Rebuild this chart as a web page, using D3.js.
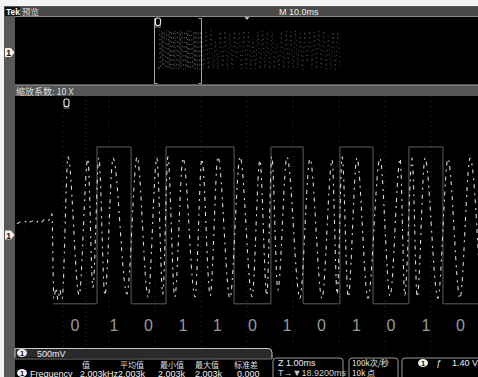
<!DOCTYPE html>
<html>
<head>
<meta charset="utf-8">
<script src="https://cdn.jsdelivr.net/npm/d3@7/dist/d3.min.js"></script>
<style>
  html, body { margin: 0; padding: 0; background: #fff; }
  svg { display: block; }
  text { font-family: "Liberation Sans Narrow", "Liberation Sans", "DejaVu Sans", "Noto Sans CJK SC", sans-serif; }
  .cjk { font-family: "Noto Sans CJK SC", "DejaVu Sans", sans-serif; }
</style>
</head>
<body>
<svg id="scope" width="478" height="377"></svg>
<script>
// ---- FSK capture: bit sequence, gate edges (ms) and the sampled trace ----
const bitValues = [0, 1, 0, 1, 1, 0, 1, 0, 1, 0, 1, 0];
const bitEdges  = [0.78, 1.74, 2.48, 3.24, 3.98, 4.72, 5.52, 6.22, 7.02, 7.74, 8.52, 9.26, 10.02];
const gateVolts = [-1.11, 1.42];   // gate level for bit 0 / bit 1

// trace: idle noise, burst start, then the peaks and troughs of the carrier
const traceTimes = [
  0.00, 0.07, 0.15, 0.22, 0.28, 0.35, 0.41, 0.48, 0.54, 0.61, 0.67, 0.72, 0.76,
  0.80, 0.85, 0.89, 0.93, 0.98,
  1.11, 1.35, 1.54, 1.65, 1.78, 1.91, 2.09, 2.39, 2.61, 2.85, 3.04, 3.17, 3.28, 3.43,
  3.61, 3.87, 4.02, 4.20, 4.37, 4.63, 4.85, 5.11, 5.28, 5.43, 5.54, 5.67, 5.87, 6.15,
  6.37, 6.63, 6.85, 6.96, 7.07, 7.20, 7.39, 7.63, 7.89, 8.11, 8.33, 8.43, 8.59, 8.70,
  8.87, 9.15, 9.37, 9.63, 9.85, 10.07
];
const traceVolts = [
  0.18, 0.21, 0.19, 0.24, 0.21, 0.23, 0.19, 0.24, 0.21, 0.26, 0.23, 0.27, 0.34,
  -1.02, -0.85, -1.05, -0.89, -1.03,
  1.26, -0.97, 1.23, -0.85, 1.24, -0.97, 1.24, -0.95, 1.26, -1.00, 1.24, -0.95, 1.26, -1.00,
  1.24, -1.00, 1.23, -0.98, 1.26, -1.02, 1.26, -1.00, 1.21, -0.98, 1.26, -0.89, 1.26, -1.02,
  1.23, -1.02, 1.21, -0.95, 1.26, -1.00, 1.24, -1.02, 1.24, -0.98, 1.23, -0.97, 1.24, -1.00,
  1.24, -1.02, 1.23, -1.02, 1.24, -0.90
];

// overview record after the zoom window: one sample per 0.5 ms from 10.0 ms
const overviewStart = 10.0;
const overviewStep = 0.5;
const overviewVolts = [
  1.22, -0.98, 1.18, -1.02, 1.25, -0.95, 0.60, -1.00, 1.20, -0.90,
  1.24, -1.03, 1.10, -0.97, 1.23, -0.40, 1.20, -1.00, 1.26, -0.96,
  1.15, -1.02, 0.80, -0.99, 1.22, -1.00, 1.24, -0.93, 1.19, -1.01,
  1.25, -0.97, 0.50, -1.02, 1.21, -0.98, 1.23, -0.88, 1.20, -1.00,
  1.26, -0.96, 1.10, -1.03, 1.22, -0.60, 1.24, -0.99, 1.18, -1.01,
  1.23, -0.94, 1.25, -1.00, 0.90, -0.98, 1.21, -1.02, 1.20, -0.95
];

// readouts
const measureHeaders = ["值", "平均值", "最小值", "最大值", "标准差"];
const measureValues  = ["2.003kHz", "2.003k", "2.003k", "2.003k", "0.000"];

const svg = d3.select("#scope");

// ---- frame ----
svg.append("rect").attr("x", 0).attr("y", 0).attr("width", 478).attr("height", 377).attr("fill", "#f4f4f4");
svg.append("rect").attr("x", 4).attr("y", 6).attr("width", 474).attr("height", 371).attr("fill", "#585858");
// top status bar
svg.append("rect").attr("x", 4).attr("y", 7).attr("width", 474).attr("height", 9).attr("fill", "#4a4a4a");
svg.append("line").attr("x1", 15).attr("x2", 478).attr("y1", 16.5).attr("y2", 16.5).attr("stroke", "#8a8a8a");
svg.append("rect").attr("x", 5).attr("y", 7).attr("width", 15).attr("height", 9).attr("fill", "#111");
svg.append("text").attr("x", 6).attr("y", 15).attr("font-size", 8.5).attr("font-weight", "bold").attr("fill", "#fff").text("Tek");
svg.append("text").attr("class", "cjk").attr("x", 22).attr("y", 15).attr("font-size", 8.5).attr("fill", "#ddd").text("预览");
svg.append("text").attr("x", 279).attr("y", 15).attr("font-size", 9).attr("fill", "#eee").text("M 10.0ms");

// overview panel
const ov = { x0: 15, y0: 17, x1: 478, y1: 84 };
svg.append("rect").attr("x", ov.x0).attr("y", ov.y0).attr("width", ov.x1 - ov.x0).attr("height", ov.y1 - ov.y0).attr("fill", "#000");

// zoom header bar
svg.append("rect").attr("x", 15).attr("y", 84).attr("width", 463).attr("height", 12).attr("fill", "#555");
svg.append("line").attr("x1", 15).attr("x2", 478).attr("y1", 85.5).attr("y2", 85.5).attr("stroke", "#7a7a7a");
svg.append("text").attr("class", "cjk").attr("x", 16).attr("y", 94.5).attr("font-size", 9).attr("fill", "#ddd").text("缩放系数: 10 X");

// main waveform panel
const pm = { x0: 15, y0: 96, x1: 478, y1: 347 };
svg.append("rect").attr("x", pm.x0).attr("y", pm.y0).attr("width", pm.x1 - pm.x0).attr("height", pm.y1 - pm.y0).attr("fill", "#000");

// bottom readout panel
svg.append("rect").attr("x", 15).attr("y", 347).attr("width", 463).attr("height", 30).attr("fill", "#000");

// ---- scales ----
const x = d3.scaleLinear().domain([0, 10]).range([17, 477]);
const y = d3.scaleLinear().domain([-1, 1]).range([297, 173]);
const xo = d3.scaleLinear().domain([0, 10]).range([154.5, 201.5]);
const yo = d3.scaleLinear().domain([-1, 1]).range([69, 35]);

const defs = svg.append("defs");
defs.append("clipPath").attr("id", "clipMain").append("rect")
  .attr("x", pm.x0).attr("y", pm.y0).attr("width", pm.x1 - pm.x0).attr("height", pm.y1 - pm.y0);
defs.append("clipPath").attr("id", "clipOv").append("rect")
  .attr("x", ov.x0).attr("y", ov.y0).attr("width", ov.x1 - ov.x0).attr("height", ov.y1 - ov.y0);

// ---- graticule (faint dotted) ----
const grid = svg.append("g").attr("clip-path", "url(#clipMain)");
grid.selectAll("line.v").data(d3.range(1, 10)).join("line")
  .attr("x1", d => x(d)).attr("x2", d => x(d))
  .attr("y1", pm.y0).attr("y2", pm.y1)
  .attr("stroke", "#2c2c2c").attr("stroke-width", 1).attr("stroke-dasharray", "1 4");
grid.append("line").attr("x1", x(1.5)).attr("x2", x(1.5)).attr("y1", pm.y0).attr("y2", pm.y1)
  .attr("stroke", "#333").attr("stroke-dasharray", "1 3");
grid.append("line").attr("x1", pm.x0).attr("x2", pm.x1).attr("y1", 226).attr("y2", 226)
  .attr("stroke", "#2a2a2a").attr("stroke-dasharray", "1 8");

// ---- gate overlay (square wave following the bits) ----
const gatePts = bitValues.map((b, i) => [bitEdges[i], gateVolts[b]]);
gatePts.push([bitEdges[bitEdges.length - 1], gateVolts[bitValues[bitValues.length - 1]]]);
const gateLine = d3.line().x(d => x(d[0])).y(d => y(d[1])).curve(d3.curveStepAfter);
svg.append("path").attr("clip-path", "url(#clipMain)")
  .attr("d", gateLine(gatePts))
  .attr("fill", "none").attr("stroke", "#5e5e5e").attr("stroke-width", 1);

// ---- FSK trace ----
const tracePts = traceTimes.map((t, i) => [t, traceVolts[i]]);
const traceLine = d3.line().x(d => x(d[0])).y(d => y(d[1])).curve(d3.curveMonotoneX);
svg.append("path").attr("clip-path", "url(#clipMain)")
  .attr("d", traceLine(tracePts))
  .attr("fill", "none").attr("stroke", "#d8d8d8").attr("stroke-width", 1.1)
  .attr("stroke-dasharray", "4 5 2 4");

// ---- bit labels ----
svg.append("g").selectAll("text").data(bitValues).join("text")
  .attr("x", (d, i) => x((bitEdges[i] + bitEdges[i + 1]) / 2))
  .attr("y", 331)
  .attr("text-anchor", "middle")
  .attr("font-family", "Open Sans, DejaVu Sans, sans-serif")
  .attr("font-weight", 300)
  .attr("font-size", 16)
  .attr("fill", "#9a9a9a")
  .text(d => d);

// ---- overview trace ----
const ovPts = tracePts.filter(d => d[0] >= bitEdges[0])
  .concat(overviewVolts.map((v, i) => [overviewStart + i * overviewStep, v]));
const ovLine = d3.line().x(d => xo(d[0])).y(d => yo(d[1]));
svg.append("path").attr("clip-path", "url(#clipOv)")
  .attr("d", ovLine(ovPts))
  .attr("fill", "none").attr("stroke", "#9a9a9a").attr("stroke-width", 0.5)
  .attr("stroke-dasharray", "1 3.5");

// zoom window brackets in the overview
const bx0 = xo(0), bx1 = xo(10);
const br = svg.append("g").attr("fill", "none").attr("stroke", "#a8a8a8").attr("stroke-width", 1);
br.append("path").attr("d", `M${bx0 + 3},${ov.y0 + 1.5} H${bx0} V${ov.y1 - 0.5} H${bx0 + 3}`);
br.append("path").attr("d", `M${bx1 - 3},${ov.y0 + 1.5} H${bx1} V${ov.y1 - 0.5} H${bx1 - 3}`);

// trigger position marker on the overview top edge
svg.append("path").attr("d", "M244.5,17 L249.5,17 L247,20 Z").attr("fill", "#bbb");

// trigger markers
function trigMark(cx, cy) {
  const g = svg.append("g");
  g.append("rect").attr("x", cx - 2.5).attr("y", cy - 4).attr("width", 5).attr("height", 7.5).attr("rx", 2)
    .attr("fill", "none").attr("stroke", "#e0e0e0").attr("stroke-width", 1.2);
  g.append("line").attr("x1", cx - 3).attr("x2", cx + 3).attr("y1", cy + 5).attr("y2", cy + 5)
    .attr("stroke", "#bbb").attr("stroke-width", 0.8);
}
trigMark(158, 22);
trigMark(66.5, 103);

// channel 1 ground markers on the left strip
function chMarker(cy) {
  const g = svg.append("g");
  g.append("path").attr("d", `M5,${cy - 4.5} H11 L14.5,${cy} L11,${cy + 4.5} H5 Z`).attr("fill", "#f0f0f0");
  g.append("text").attr("x", 8.5).attr("y", cy + 3.5).attr("text-anchor", "middle")
    .attr("font-size", 8.5).attr("font-weight", "bold").attr("fill", "#111").text("1");
}
chMarker(52.5);
chMarker(235);

// ---- vertical scale bar ----
svg.append("path").attr("d", "M15,357.5 V348.5 H268 Q272,348.5 272,352.5 V359")
  .attr("fill", "#2a2a2a").attr("stroke", "#c8c8c8").attr("stroke-width", 1);
svg.append("line").attr("x1", 15).attr("x2", 272).attr("y1", 359).attr("y2", 359).attr("stroke", "#777");
function chBadge(cx, cy) {
  svg.append("ellipse").attr("cx", cx).attr("cy", cy).attr("rx", 5).attr("ry", 4).attr("fill", "#f0f0f0");
  svg.append("text").attr("x", cx).attr("y", cy + 3).attr("text-anchor", "middle")
    .attr("font-size", 7.5).attr("font-weight", "bold").attr("fill", "#111").text("1");
}
chBadge(22, 353);
svg.append("text").attr("x", 37).attr("y", 357).attr("font-size", 9).attr("fill", "#eee").text("500mV");

// ---- measurement table ----
const colX = [82, 120, 160, 195, 234];
const valX = [80, 118, 158, 195, 237];
svg.append("g").selectAll("text").data(measureHeaders).join("text")
  .attr("class", "cjk")
  .attr("x", (d, i) => colX[i]).attr("y", 367.5)
  .attr("font-size", 8).attr("fill", "#ddd").text(d => d);
chBadge(22, 373);
svg.append("text").attr("x", 30).attr("y", 376.5).attr("font-size", 9).attr("fill", "#eee").text("Frequency");
svg.append("g").selectAll("text").data(measureValues).join("text")
  .attr("x", (d, i) => valX[i]).attr("y", 376.5)
  .attr("font-size", 9).attr("fill", "#eee").text(d => d);

// ---- timebase / acquisition / trigger readouts ----
const boxes = [[273, 343], [349, 398], [402, 482]];
svg.append("g").selectAll("rect").data(boxes).join("rect")
  .attr("x", d => d[0]).attr("y", 358).attr("width", d => d[1] - d[0]).attr("height", 24).attr("rx", 3)
  .attr("fill", "#000").attr("stroke", "#9a9a9a").attr("stroke-width", 1);
svg.append("text").attr("x", 278).attr("y", 366).attr("font-size", 9).attr("fill", "#eee").text("Z 1.00ms");
svg.append("text").attr("x", 278).attr("y", 375.5).attr("font-size", 9).attr("fill", "#ccc").text("T→▼18.9200ms");
svg.append("text").attr("class", "cjk").attr("x", 352).attr("y", 366).attr("font-size", 8).attr("fill", "#eee").text("100k次/秒");
svg.append("text").attr("class", "cjk").attr("x", 352).attr("y", 375.5).attr("font-size", 8).attr("fill", "#eee").text("10k 点");
chBadge(423, 363);
svg.append("text").attr("x", 436).attr("y", 366).attr("font-size", 9).attr("font-style", "italic").attr("fill", "#eee").text("ƒ");
svg.append("text").attr("x", 452).attr("y", 366).attr("font-size", 9).attr("fill", "#eee").text("1.40 V");
</script>
</body>
</html>
